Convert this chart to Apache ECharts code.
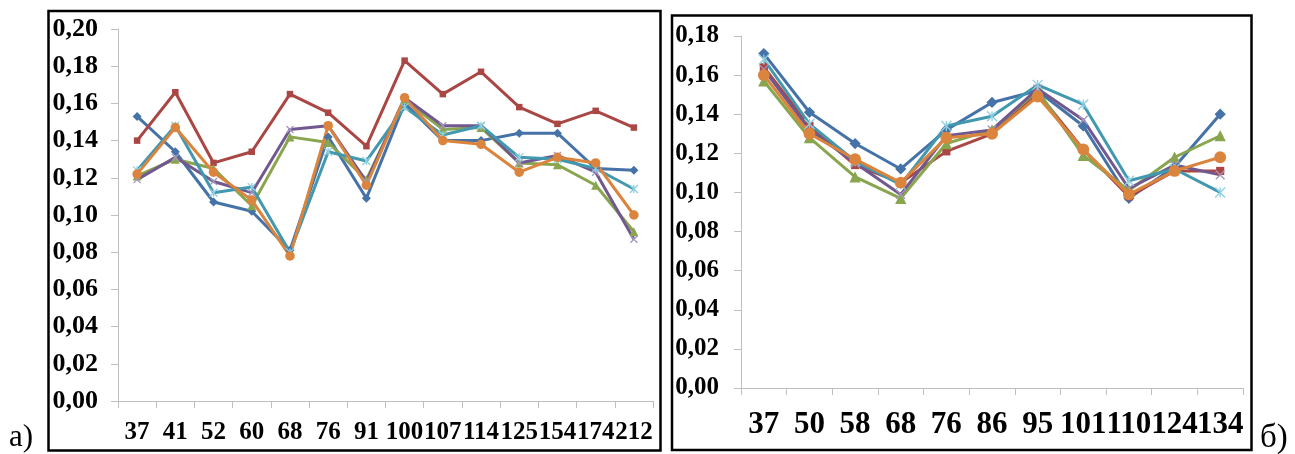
<!DOCTYPE html>
<html><head><meta charset="utf-8">
<script src="https://cdn.jsdelivr.net/npm/echarts@6/dist/echarts.min.js"></script>
<style>html,body{margin:0;padding:0;background:#fff;}#c{width:1295px;height:454px;}</style>
</head><body><div id="c"></div>
<script>
// ---- Data (panel a) ----
const catsA = ['37','41','52','60','68','76','91','100','107','114','125','154','174','212'];
const a_blue   = [0.153,0.134,0.107,0.102,0.081,0.142,0.109,0.160,0.140,0.140,0.144,0.144,0.125,0.124];
const a_red    = [0.140,0.166,0.128,0.134,0.165,0.155,0.137,0.183,0.165,0.177,0.158,0.149,0.156,0.147];
const a_green  = [0.121,0.130,0.125,0.105,0.142,0.139,0.119,0.162,0.146,0.147,0.128,0.127,0.116,0.091];
const a_purple = [0.119,0.131,0.118,0.112,0.146,0.148,0.118,0.163,0.148,0.148,0.128,0.132,0.123,0.087];
const a_cyan   = [0.124,0.148,0.112,0.115,0.080,0.134,0.129,0.158,0.143,0.148,0.131,0.130,0.125,0.114];
const a_orange = [0.122,0.147,0.123,0.108,0.078,0.148,0.116,0.163,0.140,0.138,0.123,0.131,0.128,0.100];
// ---- Data (panel б) ----
const catsB = ['37','50','58','68','76','86','95','101','110','124','134'];
const b_blue   = [0.171,0.141,0.125,0.112,0.132,0.146,0.152,0.134,0.097,0.113,0.140];
const b_red    = [0.164,0.134,0.114,0.105,0.121,0.130,0.151,0.122,0.098,0.111,0.111];
const b_green  = [0.157,0.128,0.108,0.097,0.125,0.132,0.152,0.119,0.101,0.118,0.129];
const b_purple = [0.163,0.132,0.115,0.099,0.129,0.132,0.153,0.137,0.102,0.114,0.109];
const b_cyan   = [0.168,0.135,0.116,0.104,0.134,0.139,0.155,0.145,0.106,0.112,0.100];
const b_orange = [0.160,0.130,0.117,0.105,0.128,0.130,0.149,0.122,0.099,0.111,0.118];
const panelLabels = ['а)', 'б)'];

const C = {blue:'#4572A7', red:'#AA4643', green:'#89A54E', purple:'#71588F', cyan:'#4198AF', orange:'#DB843D'};
const XPATH = 'path://M0,0L10,10M10,0L0,10';
const STAR = 'path://M0,0L10,10M10,0L0,10M5,0L5,10';
const font = 'Liberation Serif';

function mk(name, data, idx, color, symbol, size, markerStyle) {
  return {
    name, type:'line', data, xAxisIndex:idx, yAxisIndex:idx,
    symbol, symbolSize:size, showSymbol:true, animation:false,
    lineStyle:{color, width:3},
    itemStyle: markerStyle || {color},
    z: 2
  };
}
function series(idx, d, big) {
  const k = big ? 1.25 : 1;
  return [
    mk('s1', d[0], idx, C.blue, 'diamond', 9*k),
    mk('s2', d[1], idx, C.red, 'rect', 6.5*k),
    mk('s3', d[2], idx, C.green, 'triangle', 9*k),
    mk('s4', d[3], idx, C.purple, XPATH, 7*k, {color:'transparent', borderColor:'#A596C0', borderWidth:1.3}),
    mk('s5', d[4], idx, C.cyan, STAR, 8*k, {color:'transparent', borderColor:'#8FCFE0', borderWidth:1.3}),
    mk('s6', d[5], idx, C.orange, 'circle', 9.5*k)
  ];
}
function yAxis(idx, max, fs, margin) {
  return {
    type:'value', gridIndex:idx, min:0, max, interval:0.02,
    axisLine:{show:true, lineStyle:{color:'#BFBFBF', width:1}},
    axisTick:{show:true, length:7, lineStyle:{color:'#BFBFBF'}},
    splitLine:{show:false},
    axisLabel:{fontFamily:font, fontWeight:'bold', fontSize:fs, color:'#000', margin,
      formatter:v => v.toFixed(2).replace('.', ',')}
  };
}
function xAxis(idx, cats, fs, margin) {
  return {
    type:'category', gridIndex:idx, data:cats, boundaryGap:true,
    axisLine:{show:true, lineStyle:{color:'#BFBFBF', width:1}},
    axisTick:{show:true, length:7, interval:0, lineStyle:{color:'#BFBFBF'}},
    axisLabel:{fontFamily:font, fontWeight:'bold', fontSize:fs, color:'#000', margin, interval:0, hideOverlap:false}
  };
}

const chart = echarts.init(document.getElementById('c'), null, {renderer:'canvas'});
chart.setOption({
  backgroundColor:'#fff',
  animation:false,
  grid:[
    {left:118, right:642, top:29, bottom:53},
    {left:741, right:52, top:36, bottom:66}
  ],
  xAxis:[xAxis(0, catsA, 25, 19), xAxis(1, catsB, 31, 21)],
  yAxis:[yAxis(0, 0.20, 26, 20), yAxis(1, 0.18, 25, 22)],
  series:[
    ...series(0, [a_blue,a_red,a_green,a_purple,a_cyan,a_orange], false),
    ...series(1, [b_blue,b_red,b_green,b_purple,b_cyan,b_orange], true)
  ],
  graphic:[
    {type:'rect', shape:{x:48.5, y:11, width:612, height:439.5}, style:{fill:'none', stroke:'#000', lineWidth:2.5}, silent:true},
    {type:'rect', shape:{x:672, y:15.5, width:579.5, height:434.5}, style:{fill:'none', stroke:'#000', lineWidth:2.5}, silent:true},
    {type:'text', left:9, top:422, style:{text:panelLabels[0], font:'31px "Liberation Serif"', fill:'#000'}},
    {type:'text', left:1260, top:422, style:{text:panelLabels[1], font:'33px "Liberation Serif"', fill:'#000'}}
  ]
});
</script></body></html>
